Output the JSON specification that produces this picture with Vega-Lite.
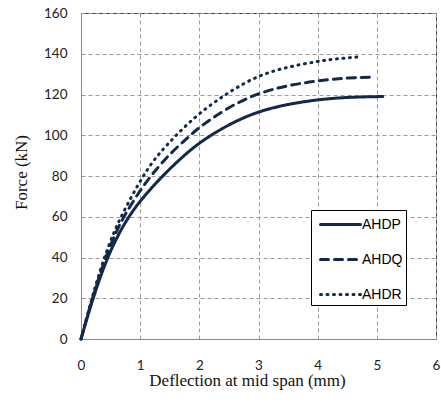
{
  "$schema": "https://vega.github.io/schema/vega-lite/v6.json",
  "width": 355,
  "height": 326,
  "autosize": "none",
  "padding": {"left": 81, "top": 13, "right": 5, "bottom": 66},
  "background": "white",
  "config": {
    "view": {"stroke": "#3a3a3a", "strokeWidth": 1},
    "axis": {
      "grid": true,
      "gridColor": "#9a9a9a",
      "gridDash": [4, 3],
      "gridWidth": 1,
      "domainColor": "#888888",
      "ticks": false,
      "labelFont": "Lato",
      "labelFontSize": 13.5,
      "labelColor": "#222222",
      "labelFlush": false,
      "titleFont": "Liberation Serif",
      "titleFontSize": 17,
      "titleFontWeight": "normal",
      "titleColor": "#111111"
    },
    "legend": {
      "orient": "none",
      "legendX": 230,
      "legendY": 197,
      "strokeColor": "#000000",
      "fillColor": "#ffffff",
      "padding": 3,
      "title": null,
      "symbolType": "M-0.5,0H3.5",
      "symbolSize": 400,
      "symbolStrokeWidth": 3,
      "symbolStrokeColor": "#13294b",
      "rowPadding": 16,
      "labelOffset": 25,
      "labelFont": "Liberation Sans",
      "labelFontSize": 14,
      "labelColor": "#000000"
    }
  },
  "data": {
    "values": [
      {"x": 0, "y": 0, "s": "AHDP"},
      {"x": 0.2, "y": 20, "s": "AHDP"},
      {"x": 0.44, "y": 40, "s": "AHDP"},
      {"x": 0.68, "y": 54, "s": "AHDP"},
      {"x": 0.82, "y": 60.5, "s": "AHDP"},
      {"x": 1.0, "y": 68, "s": "AHDP"},
      {"x": 1.39, "y": 80.5, "s": "AHDP"},
      {"x": 1.7, "y": 89, "s": "AHDP"},
      {"x": 2.0, "y": 96.5, "s": "AHDP"},
      {"x": 2.5, "y": 105.5, "s": "AHDP"},
      {"x": 3.0, "y": 111.8, "s": "AHDP"},
      {"x": 3.5, "y": 115.3, "s": "AHDP"},
      {"x": 4.0, "y": 117.5, "s": "AHDP"},
      {"x": 4.5, "y": 118.7, "s": "AHDP"},
      {"x": 5.1, "y": 119, "s": "AHDP"},
      {"x": 0, "y": 0, "s": "AHDQ"},
      {"x": 0.19, "y": 20, "s": "AHDQ"},
      {"x": 0.41, "y": 40, "s": "AHDQ"},
      {"x": 0.6, "y": 53, "s": "AHDQ"},
      {"x": 0.74, "y": 61, "s": "AHDQ"},
      {"x": 1.0, "y": 73, "s": "AHDQ"},
      {"x": 1.19, "y": 80.5, "s": "AHDQ"},
      {"x": 1.5, "y": 91, "s": "AHDQ"},
      {"x": 1.85, "y": 100, "s": "AHDQ"},
      {"x": 2.0, "y": 104, "s": "AHDQ"},
      {"x": 2.5, "y": 114, "s": "AHDQ"},
      {"x": 3.0, "y": 120.8, "s": "AHDQ"},
      {"x": 3.5, "y": 124.5, "s": "AHDQ"},
      {"x": 4.0, "y": 126.8, "s": "AHDQ"},
      {"x": 4.5, "y": 128.2, "s": "AHDQ"},
      {"x": 4.97, "y": 128.6, "s": "AHDQ"},
      {"x": 0, "y": 0, "s": "AHDR"},
      {"x": 0.18, "y": 20, "s": "AHDR"},
      {"x": 0.39, "y": 40, "s": "AHDR"},
      {"x": 0.55, "y": 52, "s": "AHDR"},
      {"x": 0.69, "y": 61, "s": "AHDR"},
      {"x": 1.05, "y": 80.5, "s": "AHDR"},
      {"x": 1.3, "y": 90.5, "s": "AHDR"},
      {"x": 1.62, "y": 100.5, "s": "AHDR"},
      {"x": 2.0, "y": 111, "s": "AHDR"},
      {"x": 2.5, "y": 121.3, "s": "AHDR"},
      {"x": 3.0, "y": 129.5, "s": "AHDR"},
      {"x": 3.5, "y": 133.6, "s": "AHDR"},
      {"x": 4.0, "y": 136.3, "s": "AHDR"},
      {"x": 4.3, "y": 137.5, "s": "AHDR"},
      {"x": 4.68, "y": 138.4, "s": "AHDR"}
    ]
  },
  "mark": {
    "type": "line",
    "interpolate": "basis",
    "strokeWidth": 3,
    "color": "#13294b",
    "strokeCap": "round"
  },
  "encoding": {
    "x": {
      "field": "x",
      "type": "quantitative",
      "scale": {"domain": [0, 6], "nice": false},
      "axis": {"values": [0, 1, 2, 3, 4, 5, 6], "title": "Deflection at mid span (mm)", "labelPadding": 19, "titlePadding": 1, "titleX": 166}
    },
    "y": {
      "field": "y",
      "type": "quantitative",
      "scale": {"domain": [0, 160], "nice": false},
      "axis": {"values": [0, 20, 40, 60, 80, 100, 120, 140, 160], "title": "Force (kN)", "labelPadding": 14, "titlePadding": 13, "titleY": 159}
    },
    "strokeDash": {
      "field": "s",
      "type": "nominal",
      "scale": {"domain": ["AHDP", "AHDQ", "AHDR"], "range": [[1, 0], [8, 6], [1, 5.5]]},
      "legend": {
        "title": null,
        "encode": {"symbols": {"update": {"strokeCap": {"value": "round"}}}}
      }
    }
  }
}
